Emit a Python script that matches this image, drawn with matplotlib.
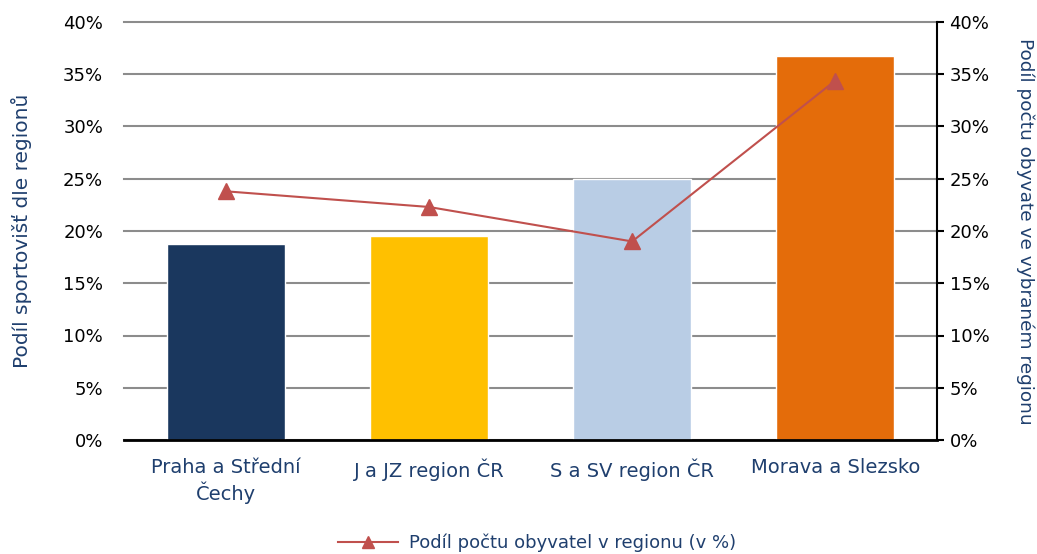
import matplotlib
matplotlib.use('Agg')
import matplotlib.pyplot as plt
from matplotlib.ticker import PercentFormatter
import numpy as np

plt.rcParams['font.family'] = ['DejaVu Sans']

# data
categories = ['Praha a Střední\nČechy', 'J a JZ region ČR', 'S a SV region ČR', 'Morava a Slezsko']
share_sites = [18.75, 19.5, 25.0, 36.7]       # bars, left axis (%)
share_population = [23.8, 22.3, 19.0, 34.4]   # line, right axis (%)
bar_colors = ['#1A375E', '#FFC000', '#B9CDE5', '#E46C0A']
line_label = 'Podíl počtu obyvatel v regionu (v %)'

dark_blue = '#1F3F6E'
red = '#C0504D'
fs = 13

fig = plt.figure(figsize=(10.37, 5.54), dpi=100)
ax = fig.add_axes([124 / 1037, 1 - 440 / 554, (937 - 124) / 1037, (440 - 22) / 554])
ax2 = ax.twinx()

x = np.arange(len(categories))
ax.bar(x, share_sites, width=0.58, color=bar_colors, edgecolor='white', linewidth=1, zorder=2)
ax2.plot(x, share_population, color=red, lw=1.5, marker='^', markersize=12,
         label=line_label, zorder=3)

for a in (ax, ax2):
    a.set_ylim(0, 40)
    a.set_yticks(np.arange(0, 41, 5))
    a.yaxis.set_major_formatter(PercentFormatter(decimals=0))
    a.tick_params(labelsize=fs, labelcolor='black')
ax.set_xlim(-0.5, len(categories) - 0.5)

ax.grid(axis='y', color='#8C8C8C', lw=1.5, zorder=0)
for gl in ax.get_ygridlines():
    gl.set_clip_on(False)
ax.set_axisbelow(True)
for s in ['top', 'left']:
    ax.spines[s].set_visible(False)
    ax2.spines[s].set_visible(False)
ax.spines['right'].set_visible(False)
ax.spines['bottom'].set_linewidth(2)
ax2.spines['bottom'].set_visible(False)
ax2.spines['right'].set_linewidth(1.5)

ax.tick_params(axis='y', length=0, pad=15)
ax.tick_params(axis='x', length=0, pad=13)
ax2.tick_params(axis='y', length=5, width=1.5, color='black', pad=4)

ax.set_xticks(x)
ax.set_xticklabels(categories, color=dark_blue, fontsize=fs + 1, linespacing=1.25)

ax.set_ylabel('Podíl sportovišť dle regionů', color=dark_blue, fontsize=14.5,
              ha='center', va='center')
ax.yaxis.set_label_coords(-0.1255, 0.5)
ax2.set_ylabel('Podíl počtu obyvate ve vybraném regionu', color=dark_blue,
               fontsize=13.3, rotation=-90, ha='center', va='center')
ax2.yaxis.set_label_coords(1.108, 0.5)

leg = fig.legend(loc='center', bbox_to_anchor=(537 / 1037, 1 - 543 / 554), frameon=False,
                 fontsize=fs, handlelength=3.3, handletextpad=0.6, markerscale=0.75)
for t in leg.get_texts():
    t.set_color(dark_blue)

fig.savefig('out.png', dpi=100)
